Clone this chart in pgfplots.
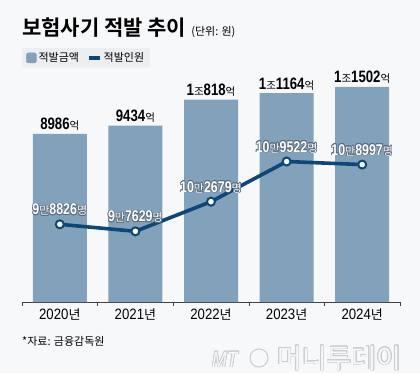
\documentclass[border=0pt]{standalone}
\usepackage{pgfplots}
\pgfplotsset{compat=1.18}
\usepackage{fontspec}
\setmainfont{Noto Sans CJK KR}[BoldFont={* Bold}]
\newfontfamily\numf{Liberation Sans}[FakeStretch=0.8]
\newfontfamily\numr{Liberation Sans}[FakeStretch=0.88]
\usepackage{contour}
\contourlength{0.6pt}
\definecolor{bg}{HTML}{F7F8FA}
\definecolor{barc}{HTML}{82A2BC}
\definecolor{linec}{HTML}{0D4677}
\definecolor{legbg}{HTML}{ECEEF1}
\definecolor{outl}{HTML}{5E6E7E}
\definecolor{wm}{HTML}{C9CCD0}
% bar label pieces
\newcommand{\BN}[1]{{\numf\bfseries\fontsize{16.5}{16.5}\selectfont #1}}
\newcommand{\BK}[1]{{\fontsize{10.5}{10.5}\selectfont #1}}
% line label pieces
\newcommand{\LN}[1]{{\numf\bfseries\fontsize{15.5}{15.5}\selectfont #1}}
\newcommand{\LK}[1]{{\fontsize{11}{11}\selectfont #1}}
\newcommand{\LL}[1]{\contour{outl}{#1}}
% x label pieces
\newcommand{\XL}[1]{{\numr\fontsize{15}{15}\selectfont #1}{\fontsize{13}{13}\selectfont 년}}
\begin{document}
\begin{tikzpicture}
\fill[bg] (0,0) rectangle (420pt,373pt);
\useasboundingbox (0,0) rectangle (420pt,373pt);
\begin{axis}[
  at={(22pt,71pt)}, anchor=south west,
  scale only axis, width=378pt, height=242pt,
  xmin=-0.5, xmax=4.5, ymin=0, ymax=12941,
  axis x line=bottom, axis y line=none,
  axis line style={-, draw=black!75, line width=0.6pt},
  xtick={0,1,2,3,4},
  xticklabels={\XL{2020},\XL{2021},\XL{2022},\XL{2023},\XL{2024}},
  major tick length=0pt,
  minor xtick={-0.5,0.5,1.5,2.5,3.5,4.5},
  minor tick length=4pt, tick align=inside,
  minor tick style={draw=black!75, line width=0.6pt},
  xticklabel style={yshift=-3pt, text=black},
  ybar, bar width=54pt,
  clip=false,
  point meta=explicit symbolic,
  nodes near coords,
  every node near coord/.append style={anchor=south, inner sep=0pt, yshift=3pt, text=black},
]
\addplot[fill=barc, draw=none] coordinates {
  (0,8986) [\BN{8986}\BK{억}]
  (1,9434) [\BN{9434}\BK{억}]
  (2,10818) [\BN{1}\BK{조}\BN{818}\BK{억}]
  (3,11164) [\BN{1}\BK{조}\BN{1164}\BK{억}]
  (4,11502) [\BN{1}\BK{조}\BN{1502}\BK{억}]
};
\end{axis}
\begin{axis}[
  at={(22pt,71pt)}, anchor=south west,
  scale only axis, width=378pt, height=242pt,
  xmin=-0.5, xmax=4.5, ymin=85589, ymax=126816,
  axis lines=none, clip=false,
  point meta=explicit symbolic,
  nodes near coords,
  every node near coord/.append style={anchor=south, inner sep=0pt, yshift=7pt, text=white},
  legend style={at={(0,1.05)}, anchor=north west, fill=legbg, draw=none,
    rounded corners=2pt, legend columns=2, inner xsep=4pt, inner ysep=2.5pt,
    font=\fontsize{11}{11}\selectfont,
    /tikz/every even column/.append style={column sep=6pt}},
  legend cell align=left,
]
\addlegendimage{legend image code/.code={\fill[barc] (0pt,-5pt) rectangle (10pt,5pt);}}
\addlegendentry{적발금액}
\addplot[linec, line width=3.6pt, mark=*, mark size=4pt,
  mark options={fill=white, draw=linec, line width=2pt},
  legend image code/.code={\draw[linec, line width=3.6pt] (0pt,0pt) -- (11pt,0pt);}]
coordinates {
  (0,98826) [\LL{\LN{9}\LK{만}\LN{8826}\LK{명}}]
  (1,97629) [\LL{\LN{9}\LK{만}\LN{7629}\LK{명}}]
  (2,102679) [\LL{\LN{10}\LK{만}\LN{2679}\LK{명}}]
  (3,109522) [\LL{\LN{10}\LK{만}\LN{9522}\LK{명}}]
  (4,108997) [\LL{\LN{10}\LK{만}\LN{8997}\LK{명}}]
};
\addlegendentry{적발인원}
\end{axis}
\node[anchor=base west, inner sep=0pt] at (22pt,337pt)
  {{\bfseries\fontsize{21}{21}\selectfont 보험사기 적발 추이}\hspace{5pt}{\fontsize{11}{11}\selectfont (단위: 원)}};
\node[anchor=base west, inner sep=0pt] at (22pt,28pt)
  {\fontsize{11}{11}\selectfont *자료: 금융감독원};
\begingroup
\contourlength{0.7pt}
\node[anchor=base west, inner sep=0pt] at (212pt,6pt)
  {\contour{wm}{\color{bg}{\numf\itshape\fontsize{22}{22}\selectfont MT}}};
\draw[wm, line width=1pt] (259pt,15pt) circle (9pt);
\node[anchor=base west, inner sep=0pt] at (277pt,5pt)
  {\contour{wm}{\color{bg}\fontsize{27}{27}\selectfont 머니투데이}};
\endgroup
\end{tikzpicture}
\end{document}
